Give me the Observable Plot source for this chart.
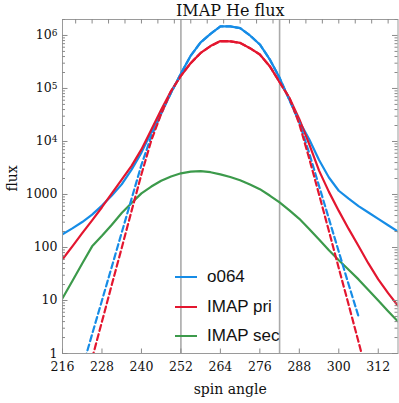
<!DOCTYPE html>
<html><head><meta charset="utf-8">
<script src="https://cdn.jsdelivr.net/npm/d3@7"></script>
<script src="https://cdn.jsdelivr.net/npm/@observablehq/plot@0.6"></script>
<style>
html,body{margin:0;padding:0;background:#fff;}
#wrap{position:relative;width:399px;height:403px;}
.legend{position:absolute;left:175px;top:262px;font-family:"Liberation Sans",Arial,sans-serif;font-size:17px;color:#111;}
.row{display:flex;align-items:center;height:29.7px;white-space:nowrap;}
.sw{width:22px;height:0;border-top:2.2px solid;margin-right:10px;}
</style></head><body><div id="wrap"></div>
<script>
const title = "IMAP He flux";
const xLabel = "spin angle";
const yLabel = "flux";
const seriesNames = ["o064", "IMAP pri", "IMAP sec"];
const colors = ["#168ce6", "#e3162f", "#3c9a4b"];

const angles = [216,219,222,225,228,231,234,237,240,243,246,249,252,255,258,261,264,267,270,273,276,279,282,285,288,291,294,297,300,303,306,309,312,315,318];

const o064 = [178,229,302,417,617,955,1550,2950,6170,15100,35500,83200,190500,417000,741000,1072000,1479000,1479000,1380000,1000000,676000,355000,158500,60300,24000,11000,4470,2090,1175,832,603,457,347,263,200];
const o064Model = [null,null,0.52,2.3,10,43.6,191,832,3630,12600,33100,83200,190500,417000,741000,1072000,1479000,1479000,1380000,1000000,676000,355000,158500,60300,22900,6030,1445,347,83,20,5.0,null,null,null,null];

const imapPri = [60,105,186,324,575,1050,1905,3470,7080,16600,39800,89100,174000,302000,468000,631000,785000,776000,724000,575000,437000,263000,132000,66100,26300,8900,2820,1120,490,224,107,50,25,13.8,7.9];
const imapPriModel = [null,null,null,0.81,4.0,20,98,490,2400,10500,33100,89100,174000,302000,468000,631000,785000,776000,724000,575000,437000,263000,132000,66100,21400,4790,1000,204,40.7,8.3,1.66,0.33,null,null,null];

const imapSec = [11,23.4,50,105,166,269,447,692,1050,1410,1820,2190,2510,2690,2750,2630,2400,2140,1860,1550,1260,955,708,501,347,224,141,89,57.5,38,25,15.8,10,6.3,4.0];

const guideAngles = [252, 282];
const xTicks = [216,228,240,252,264,276,288,300,312];
const topTicks = [220,225,230,235,240,245,250,255,260,265,270,275,280,285,290,295,300,305,310,315];
const yTicks = [1,10,100,1000,1e4,1e5,1e6];
const yTickLabels = ["1","10","100","1000","10^4","10^5","10^6"];

function rows(vals){ return angles.map((a,i)=>({angle:a, flux:vals[i]})).filter(d=>d.flux!=null); }
const minorY = yTicks.flatMap(d=>[2,3,4,5,6,7,8,9].map(k=>k*d)).filter(v=>v<=2e6);

const W = 399, H = 403, mT = 19, mB = 50, mL = 62, mR = 1.5;
const pw = W - mL - mR, ph = H - mT - mB;
const tickCol = "#8a8a8a";

const lineOpts = (c, dash) => ({x:"angle", y:"flux", stroke:c, strokeWidth:2.2, clip:true, strokeDasharray: dash ? "6,3.5" : null});

const chart = Plot.plot({
  width: W, height: H, marginTop: mT, marginBottom: mB, marginLeft: mL, marginRight: mR,
  x: {domain: [216, 318]},
  y: {type: "log", domain: [1, 2e6]},
  style: {fontFamily: "'DejaVu Serif', serif", fontSize: "12px", color: "#111", background: "#fff"},
  marks: [
    Plot.ruleX(guideAngles, {stroke: "#aaa", strokeWidth: 1.6}),
    Plot.line(rows(imapSec), lineOpts(colors[2], false)),
    Plot.line(rows(o064), lineOpts(colors[0], false)),
    Plot.line(rows(imapPri), lineOpts(colors[1], false)),
    Plot.line(rows(o064Model), lineOpts(colors[0], true)),
    Plot.line(rows(imapPriModel), lineOpts(colors[1], true)),
    Plot.frame({stroke: "#9a9a9a"}),
    Plot.ruleX(xTicks, {stroke: tickCol, insetTop: ph - 4.5}),
    Plot.ruleX(topTicks, {stroke: tickCol, insetBottom: ph - 4.5}),
    Plot.ruleY(yTicks, {stroke: tickCol, insetRight: pw - 5.5}),
    Plot.ruleY(minorY, {stroke: tickCol, insetRight: pw - 3}),
    Plot.ruleY(yTicks, {stroke: tickCol, insetLeft: pw - 5.5}),
    Plot.ruleY(minorY, {stroke: tickCol, insetLeft: pw - 3}),
    Plot.axisX({ticks: xTicks, tickSize: 0, tickPadding: 9, fontSize: 12.5, label: null}),
    Plot.axisY({ticks: yTicks, tickSize: 0, tickPadding: 5, fontSize: 12.5, label: null,
      tickFormat: d => yTickLabels[yTicks.indexOf(d)]}),
    Plot.text([title], {frameAnchor: "top", lineAnchor: "bottom", dy: -4, fontSize: 16, fill: "#111"}),
    Plot.text([xLabel], {frameAnchor: "bottom", dy: 40, fontSize: 14, fill: "#111"}),
    Plot.text([yLabel], {frameAnchor: "left", dx: -50, dy: 5, rotate: -90, fontSize: 14, fill: "#111"})
  ]
});
// render "10^k" tick labels with a real superscript
chart.querySelectorAll("text").forEach(t => {
  const m = /^10\^(\d)$/.exec(t.textContent);
  if (m) {
    t.textContent = "10";
    const s = document.createElementNS("http://www.w3.org/2000/svg", "tspan");
    s.setAttribute("dy", "-0.42em");
    s.setAttribute("font-size", "0.72em");
    s.textContent = m[1];
    t.appendChild(s);
  }
});
const wrap = document.getElementById("wrap");
wrap.appendChild(chart);
const leg = document.createElement("div");
leg.className = "legend";
seriesNames.forEach((n,i)=>{
  const r = document.createElement("div"); r.className = "row";
  const s = document.createElement("span"); s.className = "sw"; s.style.borderTopColor = colors[i];
  const t = document.createElement("span"); t.textContent = n;
  r.appendChild(s); r.appendChild(t); leg.appendChild(r);
});
wrap.appendChild(leg);
</script></body></html>
